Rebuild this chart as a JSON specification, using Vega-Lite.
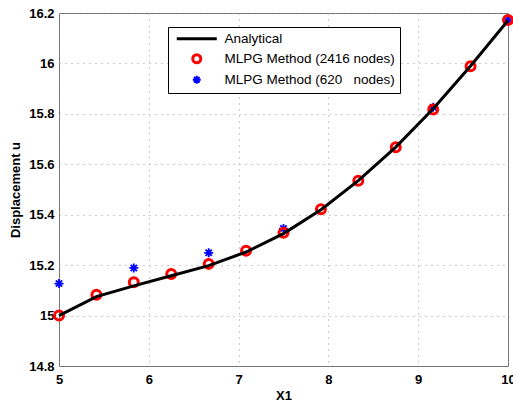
{
  "$schema": "https://vega.github.io/schema/vega-lite/v6.json",
  "width": 449,
  "height": 353,
  "autosize": {"type": "none"},
  "padding": {"left": 59, "top": 13, "right": 5, "bottom": 37},
  "background": "white",
  "config": {
    "font": "Liberation Sans",
    "view": {"stroke": "#707070", "strokeWidth": 1},
    "axis": {
      "domain": false,
      "ticks": false,
      "grid": true,
      "gridColor": "#9a9a9a",
      "gridDash": [1, 5],
      "gridWidth": 1,
      "labelFont": "Liberation Sans",
      "labelFontSize": 13,
      "labelFontWeight": "bold",
      "labelColor": "black",
      "labelFlush": false,
      "labelOverlap": false,
      "titleFont": "Liberation Sans",
      "titleFontSize": 13,
      "titleFontWeight": "bold",
      "titleColor": "black"
    }
  },
  "data": {
    "values": [
      {"x": 5.0, "u": 15.0, "series": "Analytical"},
      {"x": 5.417, "u": 15.075, "series": "Analytical"},
      {"x": 5.833, "u": 15.118, "series": "Analytical"},
      {"x": 6.25, "u": 15.158, "series": "Analytical"},
      {"x": 6.667, "u": 15.198, "series": "Analytical"},
      {"x": 7.083, "u": 15.252, "series": "Analytical"},
      {"x": 7.5, "u": 15.325, "series": "Analytical"},
      {"x": 7.917, "u": 15.42, "series": "Analytical"},
      {"x": 8.333, "u": 15.535, "series": "Analytical"},
      {"x": 8.75, "u": 15.668, "series": "Analytical"},
      {"x": 9.167, "u": 15.82, "series": "Analytical"},
      {"x": 9.583, "u": 15.99, "series": "Analytical"},
      {"x": 10.0, "u": 16.17, "series": "Analytical"},
      {"x": 5.0, "u": 15.0, "series": "MLPG Method (2416 nodes)"},
      {"x": 5.417, "u": 15.083, "series": "MLPG Method (2416 nodes)"},
      {"x": 5.833, "u": 15.132, "series": "MLPG Method (2416 nodes)"},
      {"x": 6.25, "u": 15.165, "series": "MLPG Method (2416 nodes)"},
      {"x": 6.667, "u": 15.205, "series": "MLPG Method (2416 nodes)"},
      {"x": 7.083, "u": 15.257, "series": "MLPG Method (2416 nodes)"},
      {"x": 7.5, "u": 15.328, "series": "MLPG Method (2416 nodes)"},
      {"x": 7.917, "u": 15.422, "series": "MLPG Method (2416 nodes)"},
      {"x": 8.333, "u": 15.535, "series": "MLPG Method (2416 nodes)"},
      {"x": 8.75, "u": 15.668, "series": "MLPG Method (2416 nodes)"},
      {"x": 9.167, "u": 15.817, "series": "MLPG Method (2416 nodes)"},
      {"x": 9.583, "u": 15.989, "series": "MLPG Method (2416 nodes)"},
      {"x": 10.0, "u": 16.172, "series": "MLPG Method (2416 nodes)"},
      {"x": 5.0, "u": 15.127, "series": "MLPG Method (620\u00a0\u00a0 nodes)"},
      {"x": 5.833, "u": 15.189, "series": "MLPG Method (620\u00a0\u00a0 nodes)"},
      {"x": 6.667, "u": 15.249, "series": "MLPG Method (620\u00a0\u00a0 nodes)"},
      {"x": 7.5, "u": 15.345, "series": "MLPG Method (620\u00a0\u00a0 nodes)"},
      {"x": 9.167, "u": 15.826, "series": "MLPG Method (620\u00a0\u00a0 nodes)"},
      {"x": 10.0, "u": 16.172, "series": "MLPG Method (620\u00a0\u00a0 nodes)"}
    ]
  },
  "encoding": {
    "x": {
      "field": "x",
      "type": "quantitative",
      "scale": {"domain": [5, 10], "nice": false, "zero": false},
      "axis": {"title": "X1", "values": [5, 6, 7, 8, 9, 10], "format": "d", "labelPadding": 7, "titlePadding": 3}
    },
    "y": {
      "field": "u",
      "type": "quantitative",
      "scale": {"domain": [14.8, 16.2], "nice": false, "zero": false},
      "axis": {
        "title": "Displacement u",
        "values": [14.8, 15, 15.2, 15.4, 15.6, 15.8, 16, 16.2],
        "format": ".3~g",
        "labelPadding": 5,
        "titlePadding": 6
      }
    },
    "color": {
      "field": "series",
      "type": "nominal",
      "scale": {
        "domain": ["Analytical", "MLPG Method (2416 nodes)", "MLPG Method (620\u00a0\u00a0 nodes)"],
        "range": ["black", "#ff0000", "#0000ff"]
      },
      "legend": {
        "title": null,
        "orient": "none",
        "legendX": 109,
        "legendY": 14,
        "direction": "vertical",
        "strokeColor": "black",
        "fillColor": "white",
        "padding": 5,
        "rowPadding": 2,
        "symbolSize": 64,
        "symbolStrokeWidth": 2.5,
        "symbolOffset": 17,
        "labelOffset": 21,
        "labelFont": "Liberation Sans",
        "labelFontSize": 13.5,
        "labelColor": "black",
        "labelLimit": 400,
        "encode": {
          "symbols": {
            "update": {
              "fill": {"value": "transparent"},
              "shape": {"signal": "datum.value === 'Analytical' ? 'M-5,0L5,0' : (datum.value === 'MLPG Method (2416 nodes)' ? 'circle' : 'M0,-1L0,1M-1,0L1,0M-0.7,-0.7L0.7,0.7M-0.7,0.7L0.7,-0.7')"},
              "strokeWidth": {"signal": "datum.value === 'Analytical' || datum.value === 'MLPG Method (2416 nodes)' ? 3 : 2"}
            }
          }
        }
      }
    }
  },
  "layer": [
    {
      "transform": [{"filter": "datum.series !== 'Analytical' && datum.series !== 'MLPG Method (2416 nodes)'"}],
      "mark": {"type": "point", "shape": "M0,-1L0,1M-1,0L1,0M-0.7,-0.7L0.7,0.7M-0.7,0.7L0.7,-0.7", "filled": false, "size": 81, "strokeWidth": 1.8, "opacity": 1}
    },
    {
      "transform": [{"filter": "datum.series === 'MLPG Method (2416 nodes)'"}],
      "mark": {"type": "point", "shape": "circle", "filled": false, "size": 81, "strokeWidth": 3, "opacity": 1}
    },
    {
      "transform": [{"filter": "datum.series === 'Analytical'"}],
      "mark": {"type": "line", "strokeWidth": 3}
    }
  ]
}
